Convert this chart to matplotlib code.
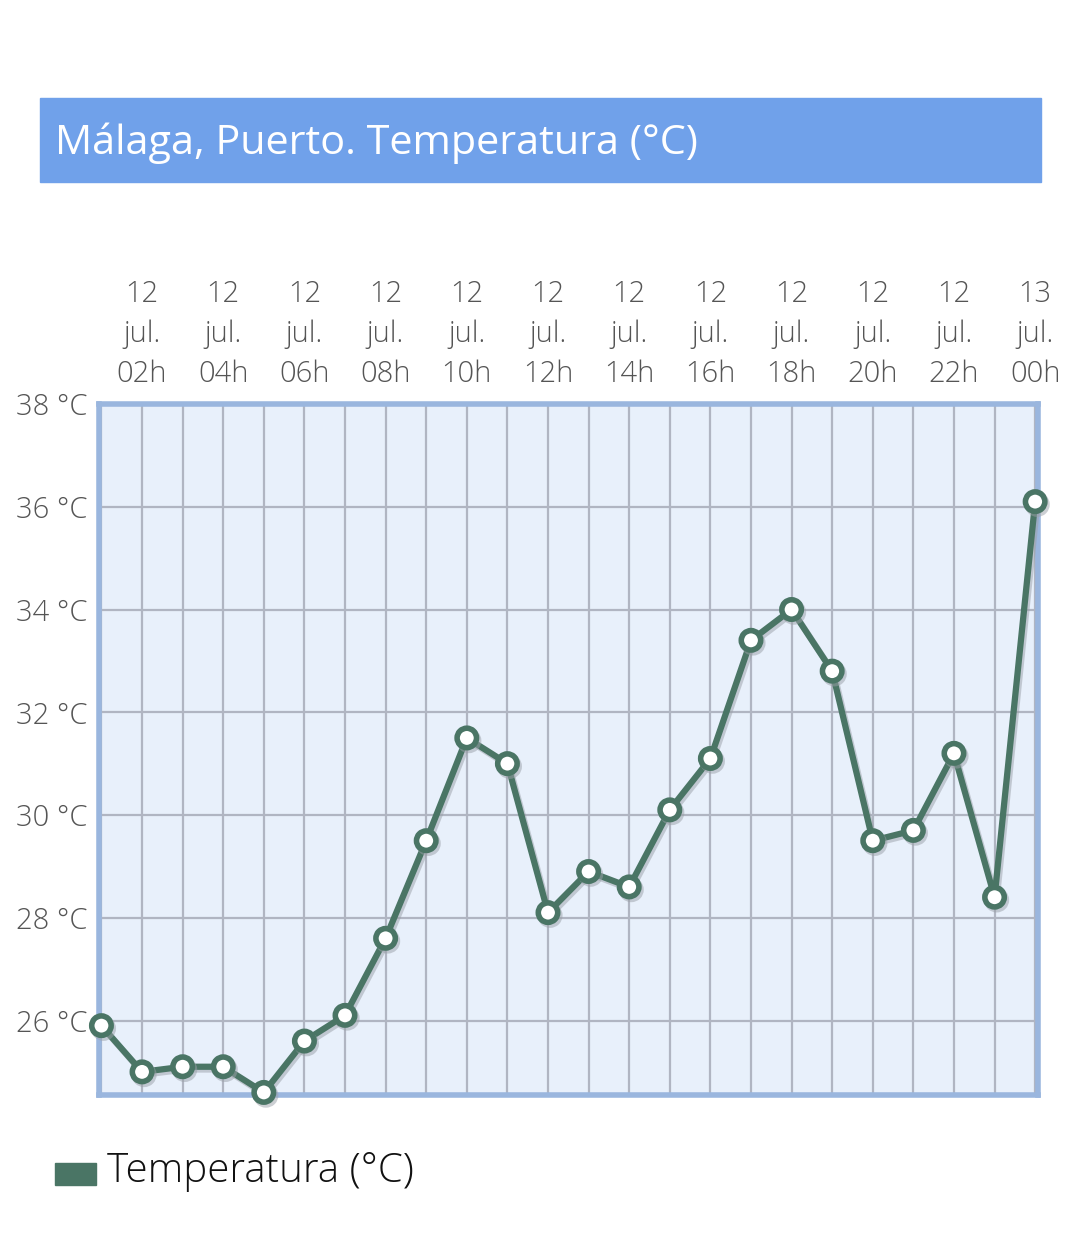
import matplotlib.pyplot as plt
import matplotlib.patheffects as pe
from matplotlib.patches import Rectangle

# hourly temperature, 12 jul 01h .. 13 jul 00h
hours = list(range(24))
temps = [25.9, 25.0, 25.1, 25.1, 24.6, 25.6, 26.1, 27.6, 29.5, 31.5, 31.0, 28.1,
         28.9, 28.6, 30.1, 31.1, 33.4, 34.0, 32.8, 29.5, 29.7, 31.2, 28.4, 36.1]
tick_pos = [1, 3, 5, 7, 9, 11, 13, 15, 17, 19, 21, 23]
tick_labels = ['12\njul.\n02h', '12\njul.\n04h', '12\njul.\n06h', '12\njul.\n08h',
               '12\njul.\n10h', '12\njul.\n12h', '12\njul.\n14h', '12\njul.\n16h',
               '12\njul.\n18h', '12\njul.\n20h', '12\njul.\n22h', '13\njul.\n00h']
y_ticks = [26, 28, 30, 32, 34, 36, 38]

plt.rcParams['font.family'] = ['Open Sans', 'DejaVu Sans']
line_col = '#4a7565'

fig = plt.figure(figsize=(10.8, 12.35), dpi=100)

# title bar
fig.patches.append(Rectangle((40/1080, 1 - 182/1235), 1001/1080, 84/1235,
                             transform=fig.transFigure, color='#70a1ea', zorder=0))
fig.text(55/1080, 1 - 143/1235, 'Málaga, Puerto. Temperatura (°C)', color='white',
         fontsize=29.8, va='center', ha='left')

ax = fig.add_axes([99/1080, 1 - 1095/1235, 939/1080, 691/1235])
ax.set_facecolor('#e8f0fb')
ax.set_xlim(-0.06, 23.07)
ax.set_ylim(24.55, 38)

for x in hours:
    ax.axvline(x, color='#b0b5c2', lw=1.6, zorder=1)
for y in y_ticks[:-1]:
    ax.axhline(y, color='#b0b5c2', lw=1.6, zorder=1)

ax.plot(hours, temps, color=line_col, lw=4.5, marker='o', markersize=14,
        markerfacecolor='white', markeredgecolor=line_col, markeredgewidth=4,
        zorder=3, clip_on=False,
        path_effects=[pe.SimpleLineShadow(offset=(1.5, -2), shadow_color='#9aa0a8', alpha=0.5),
                      pe.Normal()])

for s in ax.spines.values():
    s.set_color('#9ab6de')
    s.set_linewidth(4)

ax.xaxis.tick_top()
ax.set_xticks(tick_pos)
ax.set_xticklabels(tick_labels, fontsize=21, color='#555555', fontweight='light',
                   linespacing=1.46)
ax.set_yticks(y_ticks)
ax.set_yticklabels([f'{v} °C' for v in y_ticks], fontsize=21, color='#555555',
                   fontweight='light')
ax.tick_params(axis='x', length=0, pad=11)
ax.tick_params(axis='y', length=0, pad=8)

# legend
fig.patches.append(Rectangle((55/1080, 1 - 1185/1235), 41/1080, 22/1235,
                             transform=fig.transFigure, color=line_col))
fig.text(107/1080, 1 - 1172/1235, 'Temperatura (°C)', fontsize=29, color='#111111',
         va='center', ha='left', fontweight='light')

fig.savefig('out.png', dpi=100)
